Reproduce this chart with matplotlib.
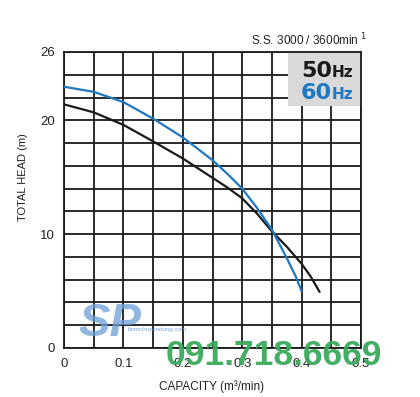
import matplotlib.pyplot as plt
from matplotlib.patches import Rectangle

# pump curves
cap_50 = [0, 0.05, 0.1, 0.15, 0.2, 0.25, 0.275, 0.3, 0.325, 0.35, 0.375, 0.4, 0.415, 0.43]
head_50 = [21.4, 20.7, 19.6, 18.15, 16.65, 14.95, 14.1, 13.15, 11.8, 10.25, 8.9, 7.4, 6.3, 4.95]
cap_60 = [0, 0.05, 0.1, 0.15, 0.2, 0.25, 0.275, 0.3, 0.325, 0.35, 0.375, 0.39, 0.4]
head_60 = [22.95, 22.5, 21.6, 20.15, 18.5, 16.5, 15.3, 14.0, 12.3, 10.4, 7.9, 6.3, 5.0]

x_ticks = [0, 0.1, 0.2, 0.3, 0.4, 0.5]
x_labels = ['0', '0.1', '0.2', '0.3', '0.4', '0.5']
y_ticks = [0, 10, 20, 26]
y_labels = ['0', '10', '20', '26']

plt.rcParams['font.family'] = ['Liberation Sans', 'DejaVu Sans']
txt = '#222222'
blue = '#1f78c1'
dark = '#1a1a1a'

fig = plt.figure(figsize=(4.2, 3.97), dpi=100)
ax = fig.add_axes([64/420, 1-348/397, (361-64)/420, (348-52)/397])

ax.plot(cap_50, head_50, color=dark, lw=1.6, zorder=3)
ax.plot(cap_60, head_60, color=blue, lw=1.6, zorder=3)

ax.set_xlim(0, 0.5)
ax.set_ylim(0, 26)
ax.set_xticks(x_ticks)
ax.set_xticklabels(x_labels)
ax.set_yticks(y_ticks)
ax.set_yticklabels(y_labels)
ax.set_xticks([i * 0.05 for i in range(11)], minor=True)
ax.set_yticks(list(range(0, 27, 2)), minor=True)
ax.grid(which='both', color=dark, lw=1.3)
ax.set_axisbelow(True)
ax.tick_params(which='both', length=0)
ax.tick_params(axis='x', pad=7, labelsize=9.5, labelcolor=txt)
ax.tick_params(axis='y', pad=6.5, labelsize=9.5, labelcolor=txt)
for s in ax.spines.values():
    s.set_color(dark)
    s.set_linewidth(1.3)

# legend box
ax.add_patch(Rectangle((0.377, 21.25), 0.123, 4.75, facecolor='#d9d9d9',
                       edgecolor='none', zorder=2))
ax.text(0.451, 23.83, '50', color=dark, fontsize=16, fontweight='bold',
        family='DejaVu Sans', ha='right', va='baseline', zorder=4)
ax.text(0.451, 23.83, 'Hz', color=dark, fontsize=11, fontweight='bold',
        family='DejaVu Sans', ha='left', va='baseline', zorder=4)
ax.text(0.451, 21.87, '60', color=blue, fontsize=16, fontweight='bold',
        family='DejaVu Sans', ha='right', va='baseline', zorder=4)
ax.text(0.451, 21.87, 'Hz', color=blue, fontsize=11, fontweight='bold',
        family='DejaVu Sans', ha='left', va='baseline', zorder=4)

fig.text(367/420, 1-45/397, 'S.S. 3000 / 3600min$^{\\ 1}$', color=txt,
         fontsize=8.5, ha='right', va='baseline')
fig.text(212/420, 1-390/397, 'CAPACITY (m³/min)', color=txt, fontsize=8.5,
         ha='center', va='baseline')
fig.text(23/420, 1-177/397, 'TOTAL HEAD (m)', color=txt, fontsize=8,
         rotation=90, ha='center', va='center')

# watermark
fig.text(78/420, 1-336/397, 'SP', color='#6d9fd8', alpha=0.75, fontsize=34,
         fontweight='bold', fontstyle='italic', ha='left', va='baseline')
fig.text(128/420, 1-331/397, 'bomchuyendung.com', color='#5b8fd0', alpha=0.8,
         fontsize=4.5, ha='left', va='baseline')
fig.text(274/420, 1-365/397, '091.718.6669', color='#3aaa5c', alpha=0.95,
         fontsize=25.5, fontweight='bold', ha='center', va='baseline')

fig.savefig('out.png', dpi=100)
